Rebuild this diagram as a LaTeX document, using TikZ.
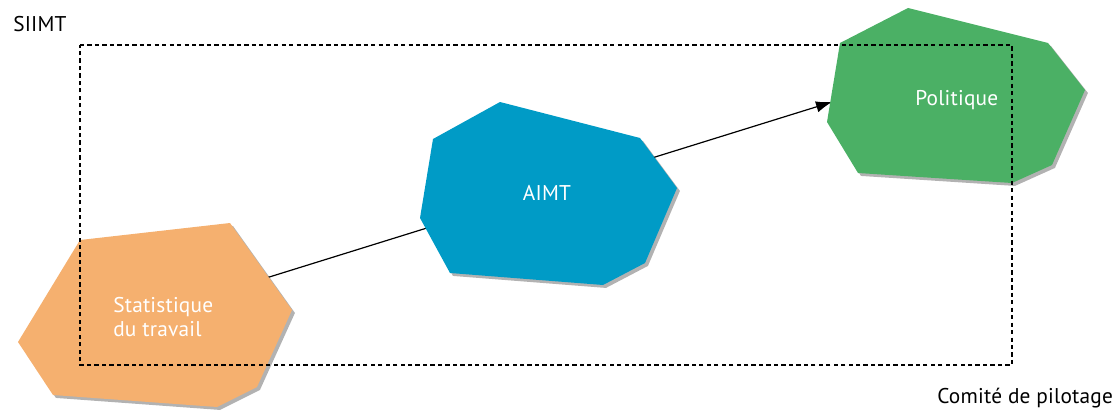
\documentclass[tikz,border=0pt]{standalone}
\usepackage{fontspec}
\setmainfont{PT Sans}[LetterSpace=1]
\usepackage{xcolor}
\usetikzlibrary{shadows,arrows.meta}

\definecolor{statOrange}{RGB}{245,176,111}
\definecolor{aimtBlue}{RGB}{0,155,198}
\definecolor{politGreen}{RGB}{75,176,101}

\begin{document}
\begin{tikzpicture}[x=0.75pt,y=0.75pt,yscale=-1,xscale=1,
  blob/.style={draw=none, drop shadow={shadow xshift=2.2pt, shadow yshift=-2.2pt, opacity=0.3, fill=black}},
  lbl/.style={inner sep=0.75pt, font=\fontsize{16}{18}\selectfont}]

\useasboundingbox (0,0) rectangle (1116,410);

% line behind the shapes
\coordinate (statC) at (160,311);
\coordinate (politIn) at (832,102);
\draw [line width=0.9pt, -{Latex[length=12pt,width=8.5pt]}] (statC) -- (politIn);

% shapes
\fill [statOrange, blob] (80,240) -- (230,223) -- (292,310) -- (257,387) -- (217,407) -- (53,395) -- (18,342) -- cycle ;
\fill [aimtBlue, blob] (500,102) -- (640,138) -- (677,188) -- (645,263) -- (603,285) -- (450,273) -- (420,218) -- (433,139) -- cycle ;
\fill [politGreen, blob] (908,8) -- (1048,43) -- (1085,90) -- (1052,165) -- (1012,183) -- (858,173) -- (827,122) -- (840,43) -- cycle ;

% comite frame
\draw [line width=0.9pt, dash pattern={on 3.2pt off 2.4pt}] (80,45) -- (1012,45) -- (1012,365) -- (80,365) -- cycle ;

\draw (12,32) node (siimt) [anchor=base west][lbl] {SIIMT};
\draw (936,403) node (comite) [anchor=base west][lbl] {Comité de pilotage};
\draw (112,296) node (stat) [anchor=north west][lbl][text=white][align=left] {Statistique\\du travail};
\draw (547,200) node (aimt) [anchor=base][lbl][text=white] {AIMT};
\draw (914,105) node (polit) [anchor=base west][lbl][text=white] {Politique};

\end{tikzpicture}
\end{document}
